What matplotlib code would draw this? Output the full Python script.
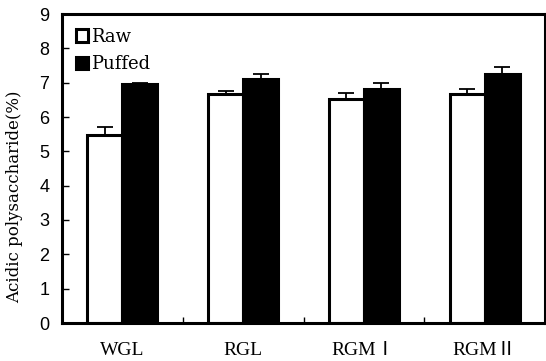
import matplotlib
matplotlib.use("Agg")
import matplotlib.pyplot as plt
import numpy as np

categories = ["WGL", "RGL", "RGMⅠ", "RGMⅡ"]
raw = [5.48, 6.66, 6.52, 6.66]
raw_err = [0.23, 0.10, 0.17, 0.15]
puffed = [6.95, 7.10, 6.81, 7.25]
puffed_err = [0.04, 0.15, 0.17, 0.22]
yticks = [0, 1, 2, 3, 4, 5, 6, 7, 8, 9]

fig = plt.figure(figsize=(5.46, 3.61), dpi=100)
ax = fig.add_axes([62/546, 1-323/361, 483/546, 309/361])

x = np.arange(len(categories))
w = 0.289
ek = dict(ecolor="black", elinewidth=1.3, capsize=5.5, capthick=1.3)
ax.bar(x - w/2, raw, w, color="white", edgecolor="black", linewidth=2.2,
       yerr=[np.zeros(len(raw)), raw_err], error_kw=ek, label="Raw", zorder=2)
ax.bar(x + w/2, puffed, w, color="black", edgecolor="black", linewidth=2.2,
       yerr=[np.zeros(len(puffed)), puffed_err], error_kw=ek, label="Puffed", zorder=2)

ax.set_xlim(-0.5, 3.5)
ax.set_ylim(0, 9)
ax.set_yticks(yticks)
ax.set_yticklabels([str(v) for v in yticks], fontsize=13, family="Liberation Sans")
ax.set_xticks([0.5, 1.5, 2.5])
ax.set_xticklabels([])
ax.tick_params(axis="x", direction="in", length=4, width=1)
ax.tick_params(axis="y", direction="in", length=5, width=1, pad=9)
for i, c in enumerate(categories):
    ax.text(i, -0.8, c, ha="center", va="center", fontsize=14,
            family=["Liberation Serif", "Noto Sans CJK JP"])

for s in ax.spines.values():
    s.set_linewidth(2.2)

fig.text(15/546, 1-197/361, "Acidic polysaccharide(%)", rotation=90, ha="center", va="center",
         fontsize=12, family="DejaVu Serif")

leg = ax.legend(loc="upper left", frameon=False, handlelength=0.7, handleheight=0.7,
                handletextpad=0.15, borderaxespad=0.35, labelspacing=0.55,
                prop=dict(family="DejaVu Serif", size=13))
fig.savefig("out.png", dpi=100)
